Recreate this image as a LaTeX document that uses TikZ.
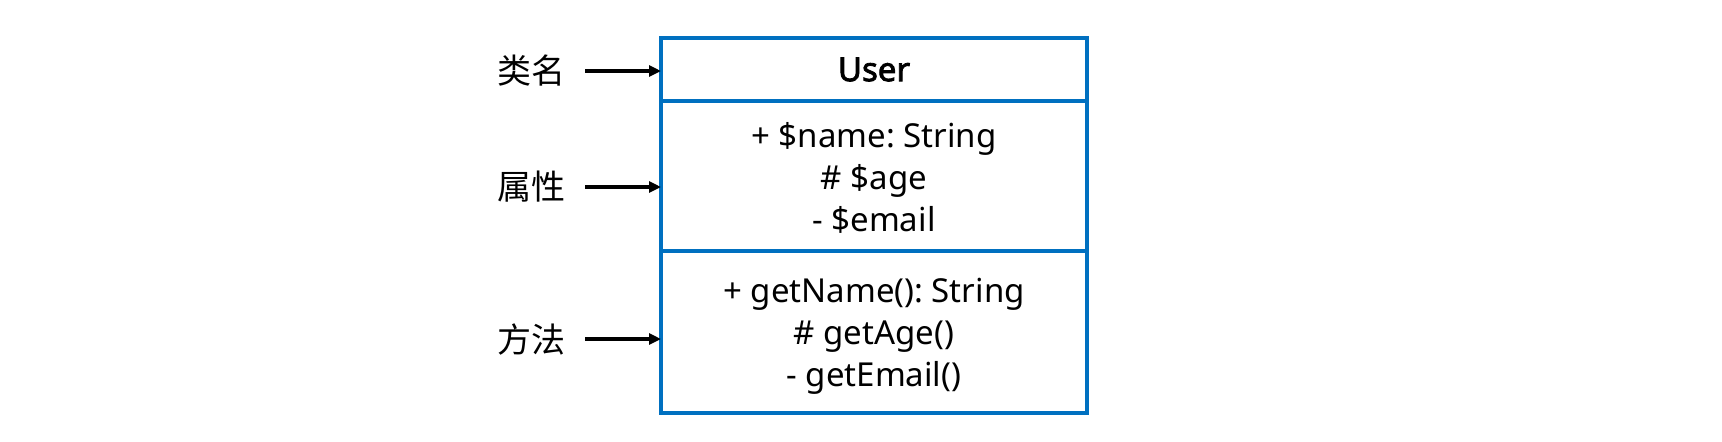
\documentclass[tikz,border=0pt]{standalone}
\usepackage{fontspec}
\setmainfont{Noto Sans}
\newfontfamily\boldlatin{Noto Sans}[FakeBold=2.5]
\newfontfamily\cjk{Noto Sans CJK SC}
\usetikzlibrary{arrows.meta}
\definecolor{umlblue}{HTML}{0070C0}
\frenchspacing
\begin{document}
\begin{tikzpicture}[x=0.5pt,y=-0.5pt,
  sect/.style={draw=umlblue,line width=2pt,minimum width=213pt,inner sep=0pt,outer sep=0pt},
  member/.style={inner sep=0pt,align=center,font=\fontsize{16.5}{21}\selectfont},
  lbl/.style={font=\cjk\fontsize{17}{20}\selectfont,inner xsep=10pt,inner ysep=0pt},
  pointer/.style={line width=2.2pt,-{Triangle[length=6pt,width=5.5pt]}}]
\useasboundingbox (0,0) rectangle (1722,441);
\node[sect,minimum height=31.5pt,font=\boldlatin\fontsize{16.5}{20.4}\selectfont] (hdr) at (874,69.5) {User};
\node[sect,minimum height=75pt] (attrs) at (874,176) {};
\node[sect,minimum height=81pt] (meths) at (874,332) {};
\node[member] (atext) at (874,177.5) {+ \$name: String\\\# \$age\\- \$email};
\node[member] (mtext) at (874,336.5) {+ getName(): String\\\# getAge()\\- getEmail()};
\node[lbl] (l1) at (531,71) {类名};
\node[lbl] (l2) at (531,187) {属性};
\node[lbl] (l3) at (531,339) {方法};
\draw[pointer] (l1.east) -- (hdr.west |- l1.east);
\draw[pointer] (l2.east) -- (attrs.west |- l2.east);
\draw[pointer] (l3.east) -- (meths.west |- l3.east);
\end{tikzpicture}
\end{document}
